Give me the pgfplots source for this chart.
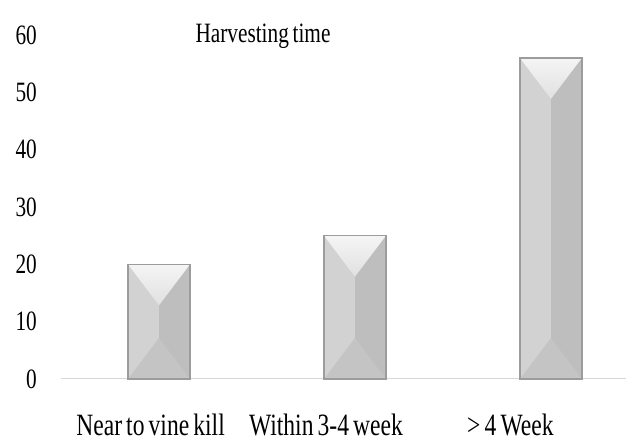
\documentclass[border=0pt]{standalone}
\usepackage{fontspec}
\setmainfont{Liberation Serif}[FakeStretch=0.76, WordSpace=0.7]
\usepackage{pgfplots}
\pgfplotsset{compat=1.18}

\definecolor{barleft}{HTML}{D2D2D2}
\definecolor{barright}{HTML}{BEBEBE}
\definecolor{barbottom}{HTML}{C4C4C4}
\definecolor{bartop}{HTML}{D6D6D6}
\definecolor{baredge}{HTML}{9C9C9C}
\definecolor{axisgray}{HTML}{D8D8D8}

\pgfdeclareverticalshading{topfacet}{100bp}{color(0bp)=(bartop); color(100bp)=(white)}

% bevelled grey column: light left face, darker right face,
% bright top facet and shaded bottom facet (basic layer only)
\newcommand\bevelfacets{%
  \pgfpointanchor{path picture bounding box}{south west}\pgfgetlastxy{\bx}{\by}%
  \pgfpointanchor{path picture bounding box}{north east}\pgfgetlastxy{\ex}{\ey}%
  \pgfmathsetlengthmacro\cx{(\bx+\ex)/2}%
  \pgfmathsetlengthmacro\bv{\by+41pt}%
  \pgfmathsetlengthmacro\tv{\ey-41pt}%
  \pgfsetfillcolor{barright}%
  \pgfpathrectanglecorners{\pgfpoint{\cx}{\by}}{\pgfpoint{\ex}{\ey}}%
  \pgfusepath{fill}%
  \pgfsetfillcolor{barbottom}%
  \pgfpathmoveto{\pgfpoint{\bx}{\by}}%
  \pgfpathlineto{\pgfpoint{\ex}{\by}}%
  \pgfpathlineto{\pgfpoint{\cx}{\bv}}%
  \pgfpathclose
  \pgfusepath{fill}%
  \begin{pgfscope}%
    \pgfpathmoveto{\pgfpoint{\bx}{\ey}}%
    \pgfpathlineto{\pgfpoint{\ex}{\ey}}%
    \pgfpathlineto{\pgfpoint{\cx}{\tv}}%
    \pgfpathclose
    \pgfshadepath{topfacet}{0}%
    \pgfusepath{discard}%
  \end{pgfscope}%
}
\tikzset{bevelbar/.style={fill=barleft, draw=baredge, line width=1.2pt,
  path picture={\bevelfacets}}}

\newcommand\labelfont{\fontsize{28}{32}\selectfont}
\newcommand\catfont{\fontsize{31}{35}\selectfont}

\begin{document}
\begin{tikzpicture}
\begin{axis}[
  scale only axis, width=565pt, height=344pt,
  xmin=-0.5, xmax=2.383, ymin=0, ymax=60,
  ytick={0,10,...,60},
  xtick={-0.043,0.852,1.793},
  xticklabels={Near to vine kill, Within 3-4 week, > 4 Week},
  axis x line=bottom, axis y line=left,
  x axis line style={-, draw=axisgray, line width=1pt},
  y axis line style={draw=none},
  major tick length=0pt,
  tick style={draw=none},
  ybar, bar width=62pt, bar shift=0pt,
  /pgf/number format/assume math mode=true,
  tick label style={inner sep=0pt},
  yticklabel style={font=\labelfont, anchor=east, xshift=-24pt},
  xticklabel style={font=\catfont, anchor=base, yshift=-56pt},
  clip=false,
]
\addplot[bevelbar] coordinates {(0,20)};
\addplot[bevelbar] coordinates {(1,25)};
\addplot[bevelbar] coordinates {(2,56)};
\node[font=\labelfont, anchor=base, inner sep=0pt] at (rel axis cs:0.3575,0.977) {Harvesting time};
\end{axis}
\pgfresetboundingbox
\path (-61pt,-62pt) rectangle (565pt,379pt);
\end{tikzpicture}
\end{document}
